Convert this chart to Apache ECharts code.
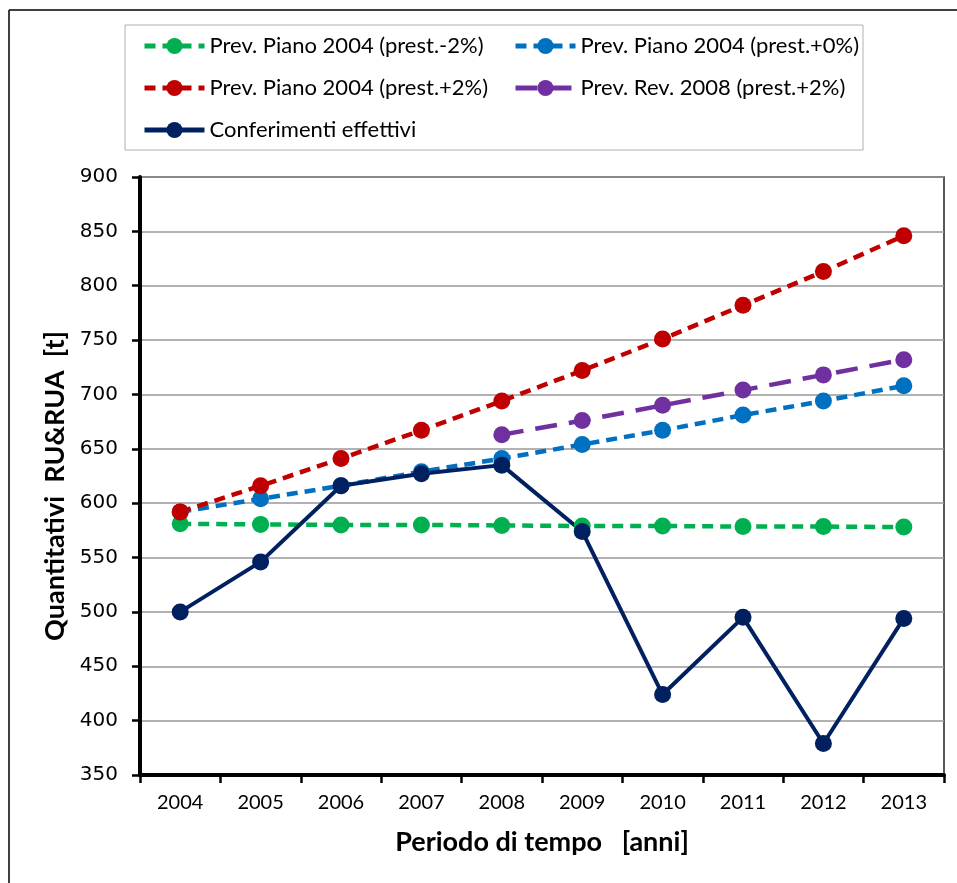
<!DOCTYPE html>
<html>
<head>
<meta charset="utf-8">
<script src="https://cdn.jsdelivr.net/npm/echarts@6/dist/echarts.min.js"></script>
<style>
  html, body { margin: 0; padding: 0; background: #fff; }
  #chart { width: 957px; height: 883px; }
</style>
</head>
<body>
<div id="chart"></div>
<script>
// anni
const years = ['2004', '2005', '2006', '2007', '2008', '2009', '2010', '2011', '2012', '2013'];
// previsioni e conferimenti [t]
const prevMeno2 = [581, 580.5, 580, 580, 579.5, 579, 579, 578.5, 578.5, 578];
const prevZero = [592, 604, 616, 629, 641, 654, 667, 681, 694, 708];
const prevPiu2 = [592, 616, 641, 667, 694, 722, 751, 782, 813, 846];
const rev2008 = [null, null, null, null, 663, 676, 690, 704, 718, 732];
const conferimenti = [500, 546, 616, 627, 635, 574, 424, 495, 379, 494];

const names = [
    'Prev. Piano 2004 (prest.-2%)',
    'Prev. Piano 2004 (prest.+0%)',
    'Prev. Piano 2004 (prest.+2%)',
    'Prev. Rev. 2008 (prest.+2%)',
    'Conferimenti effettivi'
];

const chart = echarts.init(document.getElementById('chart'));

// serie con marker tondo
function serie(name, data, color, dash, width) {
    return {
        name: name,
        type: 'line',
        data: data,
        symbol: 'circle',
        symbolSize: 17,
        showSymbol: true,
        connectNulls: false,
        itemStyle: { color: color },
        lineStyle: { color: color, width: width, type: dash },
        emphasis: { disabled: true },
        animation: false
    };
}

const legendText = { fontFamily: 'Lato', fontSize: 22, color: '#000', lineHeight: 22 };

let option = {
    backgroundColor: '#fff',
    graphic: [
        // cornice esterna
        { type: 'line', shape: { x1: 9, y1: 10, x2: 957, y2: 10 }, style: { stroke: '#000', lineWidth: 1.5 } },
        { type: 'line', shape: { x1: 9, y1: 10, x2: 9, y2: 883 }, style: { stroke: '#000', lineWidth: 1.5 } },
        // riquadro legenda
        { type: 'rect', shape: { x: 125, y: 25, width: 738, height: 125 }, style: { fill: 'none', stroke: '#b0b0b0', lineWidth: 1 } }
    ],
    legend: [
        {
            left: 137, top: 30, orient: 'vertical',
            itemWidth: 60, itemHeight: 20, itemGap: 20,
            data: [names[0], names[2], names[4]],
            lineStyle: { width: 5 },
            textStyle: legendText
        },
        {
            left: 508, top: 30, orient: 'vertical',
            itemWidth: 60, itemHeight: 20, itemGap: 20,
            data: [names[1], names[3]],
            lineStyle: { width: 5 },
            textStyle: legendText
        }
    ],
    grid: {
        left: 140, right: 13, top: 177, bottom: 108,
        show: true, borderColor: '#222', borderWidth: 1.5
    },
    xAxis: {
        type: 'category',
        data: years,
        boundaryGap: true,
        name: 'Periodo di tempo   [anni]',
        nameLocation: 'middle',
        nameGap: 54,
        nameTextStyle: { fontFamily: 'Lato', fontWeight: 'bold', fontSize: 27, color: '#000' },
        axisLine: { lineStyle: { color: '#000', width: 4 } },
        axisTick: { show: true, length: 8, lineStyle: { color: '#000', width: 2.5 } },
        axisLabel: { fontFamily: 'Lato', fontSize: 20, color: '#000', margin: 18 },
        splitLine: { show: false }
    },
    yAxis: {
        type: 'value',
        min: 350, max: 900, interval: 50,
        name: 'Quantitativi  RU&RUA  [t]',
        nameLocation: 'middle',
        nameGap: 68,
        nameTextStyle: { fontFamily: 'Lato', fontWeight: 'bold', fontSize: 27, color: '#000', padding: [0, 20, 0, 0] },
        axisLine: { show: true, lineStyle: { color: '#000', width: 4 } },
        axisTick: { show: true, length: 8, lineStyle: { color: '#000', width: 2.5 } },
        axisLabel: { fontFamily: 'DejaVu Sans', fontSize: 20, color: '#000', margin: 22 },
        splitLine: { lineStyle: { color: '#999', width: 1.5 } }
    },
    series: [
        serie(names[0], prevMeno2, '#00B050', [11, 7], 4.5),
        serie(names[1], prevZero, '#0070C0', [11, 7], 4.5),
        serie(names[2], prevPiu2, '#C00000', [11, 7], 4.5),
        serie(names[3], rev2008, '#7030A0', [22, 12], 4.5),
        serie(names[4], conferimenti, '#002060', 'solid', 4)
    ]
};

chart.setOption(option);
</script>
</body>
</html>
